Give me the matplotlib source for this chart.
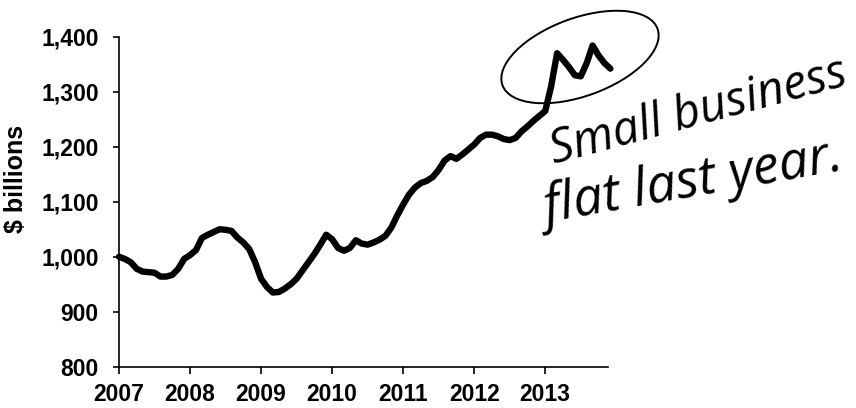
import numpy as np
import matplotlib
matplotlib.use("Agg")
import matplotlib.pyplot as plt
from matplotlib.patches import Ellipse

# monthly values, Jan 2007 - Dec 2013 ($ billions)
start_year = 2007
values = [
    1000, 996, 990, 978, 973, 972, 971, 964, 964, 967, 978, 996,      # 2007
    1003, 1012, 1034, 1040, 1045, 1050, 1049, 1047, 1035, 1026, 1014, 990,  # 2008
    960, 945, 935, 936, 942, 950, 960, 975, 990, 1005, 1022, 1040,     # 2009
    1032, 1016, 1011, 1016, 1030, 1024, 1022, 1026, 1031, 1038, 1053, 1075,  # 2010
    1095, 1113, 1126, 1134, 1138, 1145, 1158, 1175, 1183, 1178, 1186, 1195,  # 2011
    1204, 1216, 1222, 1222, 1219, 1214, 1212, 1216, 1228, 1237, 1247, 1256,  # 2012
    1265, 1310, 1370, 1358, 1345, 1330, 1328, 1352, 1384, 1366, 1352, 1342,  # 2013
]
years = [2007, 2008, 2009, 2010, 2011, 2012, 2013]
yticks = [800, 900, 1000, 1100, 1200, 1300, 1400]
note_lines = ["Small business", "flat last year."]

x = start_year + np.arange(len(values)) / 12.0

plt.rcParams['font.family'] = ['Liberation Sans', 'DejaVu Sans']

fig = plt.figure(figsize=[8.56, 4.08], dpi=100)
ax = fig.add_axes([0.139, 0.101, 0.571, 0.809])

# the series
ax.plot(x, values, color='black', lw=4.6, solid_capstyle='round',
        solid_joinstyle='round', clip_on=False, zorder=3)

ax.set_xlim(2007, 2013.88)
ax.set_ylim(800, 1400)
ax.set_xticks(years)
ax.set_yticks(yticks)
ax.set_yticklabels([f"{v:,}" for v in yticks])

for s in ['top', 'right']:
    ax.spines[s].set_visible(False)
for s in ['left', 'bottom']:
    ax.spines[s].set_linewidth(1.2)
ax.tick_params(axis='x', direction='out', length=5, width=1.2, pad=7,
               labelsize=16.5)
ax.tick_params(axis='y', direction='out', length=4.5, width=1.2, pad=10,
               labelsize=16.5)
for lab in ax.get_xticklabels() + ax.get_yticklabels():
    lab.set_fontweight('bold')

ax.set_ylabel("$ billions", fontsize=18, fontweight='bold')
ax.yaxis.set_label_coords(-0.186, 0.569)

# hand drawn circle and note
circle = Ellipse((5.80, 3.51), 1.65, 0.78, angle=20, fill=False,
                 edgecolor='black', lw=1.4, transform=fig.dpi_scale_trans)
fig.add_artist(circle)

fig.text(698 / 856, 1 - 112 / 408, note_lines[0], fontsize=34,
         family=['Open Sans', 'DejaVu Sans'], style='italic',
         rotation=15, ha='center', va='center', rotation_mode='anchor')
fig.text(693 / 856, 1 - 183 / 408, note_lines[1], fontsize=38,
         family=['Open Sans', 'DejaVu Sans'], style='italic',
         rotation=10, ha='center', va='center', rotation_mode='anchor')

plt.savefig("out.png", dpi=100)
